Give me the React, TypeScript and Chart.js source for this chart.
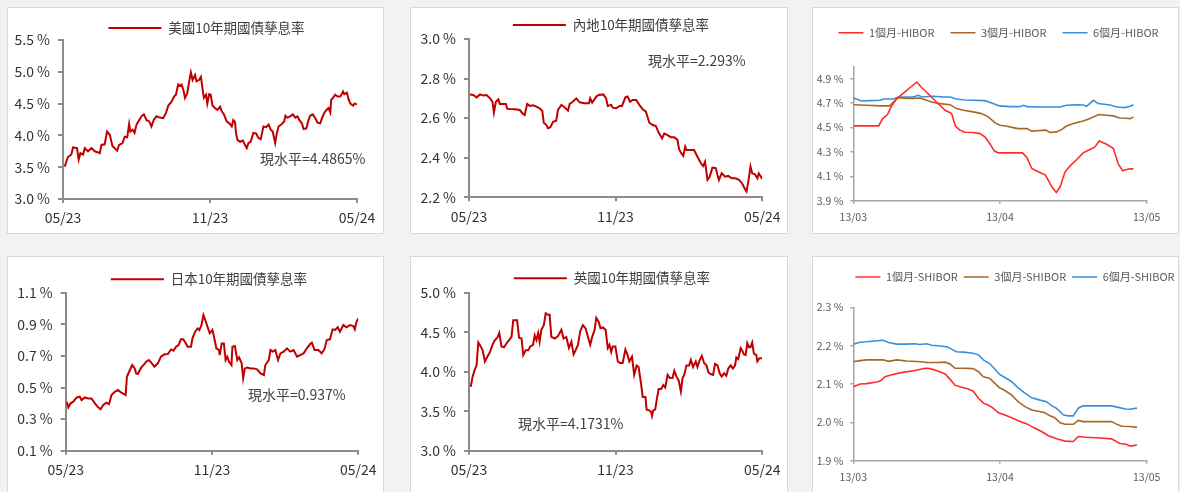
import React, { useEffect, useRef } from "react";
import { Chart, registerables, layouts } from "chart.js";

Chart.register(...registerables);

const FONT = "'Noto Sans CJK TC', 'Noto Sans', sans-serif";

type Pt = [number, number];

// ---- tick labels ----
const bondXTicks = [0, 6, 12];
const bondXLabels = ["05/23", "11/23", "05/24"];
const rateXTicks = [0, 30, 60];
const rateXLabels = ["13/03", "13/04", "13/05"];

const usYTicks = [3.0, 3.5, 4.0, 4.5, 5.0, 5.5];
const cnYTicks = [2.2, 2.4, 2.6, 2.8, 3.0];
const jpYTicks = [0.1, 0.3, 0.5, 0.7, 0.9, 1.1];
const ukYTicks = [3.0, 3.5, 4.0, 4.5, 5.0];
const hiborYTicks = [3.9, 4.1, 4.3, 4.5, 4.7, 4.9];
const shiborYTicks = [1.9, 2.0, 2.1, 2.2, 2.3];

// ---- series: [months since 05/23, yield %] ----
const usYield: Pt[] = [[0.07,3.51],[0.20,3.66],[0.34,3.70],[0.41,3.81],[0.57,3.80],[0.64,3.62],[0.71,3.72],[0.82,3.70],[0.89,3.80],[1.02,3.75],[1.16,3.80],[1.30,3.75],[1.50,3.72],[1.57,3.85],[1.70,3.86],[1.80,4.06],[1.91,4.01],[2.02,3.83],[2.11,3.80],[2.21,3.76],[2.29,3.85],[2.43,3.88],[2.52,3.98],[2.62,3.97],[2.70,4.18],[2.75,4.06],[2.84,4.09],[2.92,4.04],[3.00,4.17],[3.11,4.24],[3.20,4.30],[3.30,4.33],[3.41,4.24],[3.52,4.22],[3.61,4.14],[3.71,4.25],[3.82,4.30],[3.95,4.28],[4.09,4.27],[4.20,4.35],[4.30,4.47],[4.43,4.53],[4.53,4.61],[4.61,4.64],[4.70,4.80],[4.77,4.78],[4.84,4.80],[4.91,4.72],[4.98,4.59],[5.07,4.66],[5.15,4.85],[5.22,4.99],[5.29,4.87],[5.39,4.95],[5.45,4.85],[5.55,4.87],[5.63,4.92],[5.70,4.72],[5.75,4.59],[5.84,4.64],[5.89,4.50],[5.97,4.65],[6.03,4.64],[6.10,4.47],[6.20,4.43],[6.30,4.40],[6.41,4.45],[6.48,4.38],[6.57,4.33],[6.68,4.22],[6.79,4.19],[6.89,4.14],[6.95,4.24],[7.02,4.21],[7.06,4.04],[7.12,3.93],[7.23,3.90],[7.34,3.92],[7.43,3.85],[7.50,3.80],[7.57,3.88],[7.66,3.90],[7.77,4.04],[7.88,4.03],[7.98,3.96],[8.07,3.94],[8.18,4.14],[8.29,4.13],[8.39,4.17],[8.48,4.09],[8.56,4.06],[8.66,3.88],[8.73,4.04],[8.80,4.14],[8.93,4.18],[9.03,4.22],[9.08,4.31],[9.16,4.28],[9.27,4.30],[9.38,4.33],[9.48,4.28],[9.57,4.30],[9.65,4.24],[9.75,4.19],[9.82,4.10],[9.93,4.11],[10.02,4.24],[10.09,4.31],[10.19,4.33],[10.30,4.27],[10.39,4.20],[10.50,4.19],[10.57,4.27],[10.66,4.35],[10.75,4.40],[10.84,4.43],[10.91,4.36],[10.95,4.56],[11.02,4.59],[11.11,4.64],[11.21,4.61],[11.32,4.61],[11.43,4.69],[11.48,4.65],[11.59,4.67],[11.66,4.56],[11.73,4.50],[11.84,4.47],[11.90,4.50],[12.00,4.49]];

const cnYield: Pt[] = [[0.04,2.720],[0.18,2.717],[0.31,2.705],[0.45,2.720],[0.58,2.714],[0.72,2.717],[0.86,2.700],[0.96,2.683],[1.02,2.628],[1.10,2.683],[1.20,2.695],[1.26,2.672],[1.40,2.672],[1.51,2.672],[1.56,2.648],[1.67,2.646],[1.88,2.645],[2.08,2.641],[2.19,2.624],[2.28,2.616],[2.38,2.672],[2.49,2.662],[2.62,2.665],[2.76,2.658],[2.89,2.650],[3.00,2.636],[3.06,2.577],[3.17,2.565],[3.23,2.549],[3.33,2.554],[3.44,2.582],[3.57,2.587],[3.64,2.641],[3.78,2.667],[3.91,2.655],[4.05,2.638],[4.12,2.672],[4.25,2.683],[4.39,2.700],[4.53,2.680],[4.73,2.675],[4.91,2.675],[4.96,2.700],[5.04,2.678],[5.21,2.709],[5.31,2.717],[5.50,2.720],[5.61,2.700],[5.68,2.662],[5.82,2.667],[5.88,2.653],[6.02,2.650],[6.16,2.662],[6.26,2.662],[6.40,2.705],[6.49,2.709],[6.59,2.683],[6.70,2.692],[6.84,2.692],[6.97,2.667],[7.11,2.645],[7.24,2.633],[7.38,2.577],[7.52,2.565],[7.65,2.560],[7.76,2.527],[7.90,2.498],[7.99,2.522],[8.13,2.514],[8.26,2.503],[8.40,2.503],[8.53,2.490],[8.60,2.443],[8.67,2.426],[8.77,2.409],[8.85,2.456],[8.90,2.439],[9.01,2.439],[9.21,2.439],[9.35,2.405],[9.49,2.372],[9.58,2.358],[9.66,2.380],[9.76,2.288],[9.85,2.304],[9.96,2.350],[10.10,2.347],[10.17,2.313],[10.23,2.288],[10.34,2.321],[10.48,2.304],[10.61,2.308],[10.75,2.296],[10.91,2.296],[11.05,2.288],[11.18,2.270],[11.28,2.245],[11.36,2.229],[11.43,2.279],[11.52,2.355],[11.59,2.321],[11.70,2.316],[11.80,2.296],[11.86,2.321],[12.00,2.293]];

const jpYield: Pt[] = [[0.04,0.41],[0.11,0.374],[0.20,0.40],[0.31,0.41],[0.45,0.437],[0.58,0.442],[0.65,0.42],[0.79,0.437],[0.92,0.431],[1.06,0.431],[1.20,0.40],[1.33,0.374],[1.43,0.362],[1.54,0.389],[1.67,0.404],[1.78,0.395],[1.88,0.452],[2.01,0.473],[2.15,0.484],[2.28,0.467],[2.38,0.459],[2.46,0.452],[2.51,0.568],[2.62,0.606],[2.73,0.642],[2.83,0.621],[2.89,0.589],[2.96,0.585],[3.10,0.627],[3.19,0.642],[3.30,0.663],[3.41,0.674],[3.51,0.657],[3.64,0.632],[3.78,0.653],[3.91,0.695],[4.05,0.710],[4.19,0.712],[4.32,0.741],[4.42,0.733],[4.53,0.758],[4.63,0.769],[4.73,0.805],[4.82,0.805],[4.91,0.784],[5.00,0.758],[5.14,0.758],[5.20,0.811],[5.31,0.853],[5.41,0.874],[5.48,0.864],[5.57,0.895],[5.65,0.959],[5.75,0.916],[5.84,0.874],[5.91,0.843],[6.02,0.864],[6.09,0.817],[6.18,0.748],[6.29,0.737],[6.32,0.705],[6.40,0.779],[6.49,0.779],[6.56,0.674],[6.63,0.695],[6.70,0.663],[6.80,0.642],[6.84,0.758],[6.94,0.763],[7.04,0.674],[7.11,0.691],[7.22,0.653],[7.28,0.558],[7.35,0.621],[7.45,0.627],[7.58,0.621],[7.72,0.621],[7.85,0.615],[7.99,0.589],[8.13,0.579],[8.19,0.642],[8.33,0.674],[8.40,0.737],[8.49,0.727],[8.60,0.737],[8.71,0.674],[8.81,0.716],[8.94,0.727],[9.08,0.748],[9.21,0.727],[9.35,0.737],[9.49,0.695],[9.62,0.705],[9.76,0.716],[9.89,0.748],[10.03,0.775],[10.10,0.784],[10.21,0.737],[10.37,0.737],[10.50,0.716],[10.61,0.741],[10.71,0.800],[10.84,0.805],[10.95,0.868],[11.05,0.864],[11.16,0.881],[11.25,0.853],[11.39,0.895],[11.52,0.881],[11.66,0.895],[11.80,0.889],[11.86,0.868],[11.93,0.916],[12.00,0.937]];

const ukYield: Pt[] = [[0.07,3.81],[0.15,3.94],[0.24,4.03],[0.31,4.08],[0.38,4.37],[0.48,4.32],[0.56,4.27],[0.65,4.13],[0.75,4.19],[0.86,4.25],[0.96,4.34],[1.06,4.40],[1.16,4.43],[1.24,4.49],[1.33,4.32],[1.43,4.31],[1.54,4.36],[1.64,4.40],[1.74,4.44],[1.81,4.65],[1.92,4.65],[1.97,4.65],[2.05,4.43],[2.15,4.42],[2.22,4.21],[2.32,4.27],[2.42,4.27],[2.51,4.32],[2.62,4.34],[2.69,4.46],[2.76,4.40],[2.83,4.49],[2.89,4.38],[2.96,4.53],[3.06,4.59],[3.14,4.74],[3.23,4.72],[3.30,4.72],[3.37,4.44],[3.51,4.42],[3.64,4.45],[3.78,4.53],[3.87,4.42],[3.98,4.44],[4.09,4.30],[4.19,4.38],[4.28,4.22],[4.36,4.27],[4.46,4.34],[4.55,4.51],[4.66,4.59],[4.77,4.55],[4.87,4.44],[4.96,4.34],[5.04,4.44],[5.14,4.53],[5.21,4.68],[5.31,4.63],[5.38,4.55],[5.48,4.56],[5.59,4.53],[5.68,4.30],[5.75,4.34],[5.82,4.25],[5.88,4.32],[5.99,4.32],[6.09,4.13],[6.18,4.11],[6.29,4.11],[6.40,4.28],[6.49,4.21],[6.56,4.13],[6.67,4.19],[6.76,3.96],[6.86,4.08],[6.94,4.06],[7.04,3.85],[7.11,3.68],[7.22,3.68],[7.27,3.52],[7.38,3.51],[7.45,3.49],[7.49,3.44],[7.54,3.51],[7.62,3.52],[7.68,3.64],[7.76,3.78],[7.86,3.78],[7.95,3.83],[8.03,3.80],[8.13,3.96],[8.22,3.92],[8.33,3.92],[8.40,4.01],[8.49,3.94],[8.58,3.89],[8.67,3.75],[8.74,3.92],[8.81,3.96],[8.90,4.08],[9.01,4.08],[9.08,4.15],[9.17,4.06],[9.28,4.13],[9.35,4.06],[9.42,4.13],[9.53,4.20],[9.62,4.11],[9.72,4.08],[9.80,3.99],[9.89,3.97],[9.99,3.96],[10.07,4.10],[10.17,4.08],[10.26,3.98],[10.34,3.94],[10.44,3.98],[10.53,3.95],[10.61,4.04],[10.71,4.08],[10.80,4.04],[10.89,4.08],[10.94,4.18],[11.02,4.16],[11.12,4.30],[11.18,4.27],[11.25,4.22],[11.32,4.21],[11.39,4.36],[11.46,4.31],[11.52,4.31],[11.59,4.37],[11.66,4.23],[11.76,4.21],[11.80,4.13],[11.89,4.17],[12.00,4.17]];

// ---- series: [days since 13/03, rate %] ----
const hibor1M: Pt[] = [[0,4.513],[5.2,4.513],[6.0,4.573],[7.0,4.606],[7.8,4.674],[8.9,4.737],[13.0,4.873],[14.0,4.826],[15.3,4.777],[17.0,4.709],[18.8,4.641],[20.1,4.614],[20.9,4.51],[21.8,4.478],[22.8,4.461],[24.5,4.459],[25.9,4.45],[26.9,4.423],[28.0,4.363],[28.8,4.309],[29.7,4.292],[31.4,4.292],[33.4,4.292],[34.6,4.292],[35.5,4.254],[36.5,4.164],[37.8,4.137],[39.3,4.11],[40.6,4.014],[41.5,3.968],[42.3,4.014],[43.3,4.137],[44.3,4.183],[45.7,4.238],[47.0,4.292],[48.4,4.32],[49.4,4.341],[50.3,4.39],[51.8,4.363],[53.2,4.327],[54.2,4.199],[55.1,4.145],[55.9,4.155],[56.6,4.161],[57.3,4.161]];
const hibor3M: Pt[] = [[0,4.687],[2.7,4.682],[5.5,4.677],[7.4,4.677],[8.2,4.709],[9.2,4.745],[10.9,4.739],[12.3,4.739],[13.6,4.742],[15.0,4.723],[16.0,4.709],[17.7,4.696],[19.8,4.687],[21.1,4.655],[22.5,4.641],[24.5,4.628],[26.2,4.614],[27.6,4.587],[29.0,4.538],[30.0,4.519],[31.4,4.51],[32.7,4.499],[33.7,4.491],[35.5,4.491],[36.5,4.47],[38.2,4.475],[39.4,4.478],[40.2,4.459],[41.6,4.464],[42.6,4.483],[43.5,4.51],[45.0,4.532],[47.0,4.554],[48.4,4.573],[50.2,4.606],[51.8,4.60],[53.2,4.595],[54.4,4.578],[55.6,4.576],[56.6,4.573],[57.3,4.587]];
const hibor6M: Pt[] = [[0,4.742],[1.7,4.717],[3.4,4.72],[5.5,4.723],[6.1,4.734],[8.2,4.734],[9.2,4.75],[10.9,4.75],[12.3,4.75],[13.3,4.764],[14.0,4.75],[16.4,4.756],[18.4,4.75],[19.8,4.75],[21.1,4.734],[22.8,4.726],[24.5,4.723],[26.9,4.72],[28.3,4.701],[29.9,4.677],[32.0,4.671],[34.1,4.671],[34.8,4.682],[35.5,4.671],[38.2,4.668],[42.3,4.668],[43.6,4.682],[45.7,4.687],[47.0,4.684],[47.7,4.674],[49.1,4.723],[50.1,4.696],[52.5,4.684],[53.9,4.668],[55.6,4.663],[56.6,4.674],[57.3,4.687]];

const shibor1M: Pt[] = [[0,2.093],[1.4,2.10],[2.7,2.101],[4.8,2.105],[5.5,2.108],[6.5,2.119],[7.5,2.123],[9.5,2.129],[12.6,2.135],[14.7,2.141],[15.7,2.14],[17.0,2.135],[18.8,2.126],[19.8,2.112],[20.8,2.097],[21.8,2.093],[23.2,2.088],[24.5,2.082],[25.6,2.063],[26.6,2.05],[27.6,2.045],[28.5,2.038],[29.7,2.025],[31.0,2.019],[32.4,2.012],[34.1,2.002],[35.5,1.996],[36.8,1.987],[38.5,1.976],[39.9,1.965],[41.6,1.957],[43.3,1.951],[45.0,1.95],[46.0,1.963],[47.7,1.961],[50.5,1.959],[52.8,1.957],[54.5,1.945],[55.8,1.943],[56.7,1.938],[58.0,1.941]];
const shibor3M: Pt[] = [[0,2.158],[1.4,2.161],[2.7,2.163],[4.8,2.163],[6.1,2.163],[7.2,2.159],[8.9,2.163],[10.9,2.16],[14.0,2.158],[15.0,2.156],[17.0,2.156],[18.8,2.157],[19.8,2.152],[20.8,2.141],[22.5,2.141],[24.5,2.14],[25.6,2.132],[26.6,2.119],[27.8,2.115],[28.6,2.106],[29.9,2.09],[31.0,2.083],[32.4,2.071],[33.7,2.054],[35.1,2.041],[36.5,2.032],[37.8,2.029],[39.2,2.025],[40.2,2.017],[41.2,2.012],[42.3,1.999],[43.3,1.995],[45.0,1.995],[46.0,2.005],[47.0,2.002],[49.8,2.002],[52.8,2.002],[53.7,1.996],[54.9,1.99],[56.6,1.989],[58.0,1.987]];
const shibor6M: Pt[] = [[0,2.204],[1.4,2.209],[2.7,2.21],[4.4,2.212],[6.1,2.214],[7.2,2.208],[8.9,2.204],[10.9,2.204],[12.6,2.205],[13.6,2.203],[15.0,2.205],[16.0,2.201],[17.7,2.199],[19.1,2.197],[20.1,2.191],[21.1,2.184],[22.5,2.183],[24.5,2.18],[25.6,2.176],[26.6,2.163],[27.8,2.154],[28.8,2.141],[29.9,2.125],[31.0,2.117],[32.4,2.106],[33.7,2.09],[35.1,2.076],[36.5,2.064],[38.2,2.058],[39.5,2.054],[40.6,2.043],[41.5,2.037],[43.0,2.019],[44.0,2.017],[45.0,2.017],[46.0,2.037],[47.0,2.043],[49.8,2.043],[52.8,2.043],[54.2,2.039],[55.6,2.035],[56.6,2.034],[58.0,2.037]];

// ---- chart component ----
interface Series { label: string; color: string; data: Pt[] }
interface Spec {
  W: number; H: number;
  plot: { l: number; t: number; r: number; b: number };
  legend: { cx: number; cy: number; size: number; pad: number; lineW: number; color: string };
  series: Series[];
  lineWidth: number;
  x: { min: number; max: number; ticks: number[]; labels: string[]; tickLen: number; pad: number };
  y: { min: number; max: number; ticks: number[]; fmt: (v: number) => string; tickLen: number; pad: number };
  tickFont: number; tickColor: string; axisColor: string; axisWidth: number;
}

function LineChart({ spec }: { spec: Spec }) {
  const ref = useRef<HTMLCanvasElement>(null);
  useEffect(() => {
    const s = spec;
    const { W, H, plot, legend } = s;
    const pl = 0;
    const pr = pl + W - 2 * legend.cx;
    const pt = legend.cy - legend.pad - legend.size / 2;
    const natural = legend.size + legend.pad + 10;
    const topSpace = plot.t - pt;
    const legendH = Math.min(natural, topSpace);
    const spacerTop = Math.max(0, topSpace - natural);
    const spacerRight = W - pr - plot.r;
    const yAxisW = plot.l - pl;
    const xAxisH = H - plot.b;

    const spacer = {
      id: "spacer",
      beforeInit(chart: any) {
        const mk = (position: string, size: number) => ({
          position, weight: -10, fullSize: false, options: {},
          left: 0, top: 0, right: 0, bottom: 0, width: 0, height: 0,
          isHorizontal() { return position === "top" || position === "bottom"; },
          update(maxWidth: number, maxHeight: number) {
            if (this.isHorizontal()) { this.width = maxWidth; this.height = size; }
            else { this.width = size; this.height = maxHeight; }
          },
          draw() {},
          getPadding() { return { left: 0, right: 0, top: 0, bottom: 0 }; },
        });
        layouts.addBox(chart, mk("top", spacerTop) as any);
        layouts.addBox(chart, mk("right", spacerRight) as any);
      },
    };

    const tickFont = { family: FONT, size: s.tickFont };
    const chart = new Chart(ref.current!, {
      type: "line",
      data: {
        datasets: s.series.map((se) => ({
          label: se.label,
          data: se.data.map(([x, y]) => ({ x, y })),
          borderColor: se.color,
          backgroundColor: se.color,
          borderWidth: s.lineWidth,
          pointRadius: 0,
          tension: 0,
          fill: false,
        })),
      },
      options: {
        animation: false,
        responsive: false,
        maintainAspectRatio: false,
        events: [],
        layout: { padding: { left: pl, right: pr, top: pt, bottom: 0 } },
        plugins: {
          legend: {
            display: true,
            position: "top",
            align: "center",
            maxHeight: legendH,
            labels: {
              usePointStyle: true,
              pointStyle: "line",
              pointStyleWidth: legend.lineW,
              padding: legend.pad,
              color: legend.color,
              font: { family: FONT, size: legend.size },
            },
          },
          tooltip: { enabled: false },
        },
        scales: {
          x: {
            type: "linear",
            min: s.x.min,
            max: s.x.max,
            afterFit: (sc: any) => { sc.height = xAxisH; },
            afterBuildTicks: (sc: any) => { sc.ticks = s.x.ticks.map((v) => ({ value: v })); },
            ticks: {
              autoSkip: false, maxRotation: 0, minRotation: 0,
              padding: s.x.pad, color: s.tickColor, font: tickFont,
              callback: (v: any) => s.x.labels[s.x.ticks.indexOf(Number(v))] ?? "",
            },
            grid: { display: true, drawOnChartArea: false, drawTicks: true, tickLength: s.x.tickLen, color: s.axisColor, lineWidth: s.axisWidth },
            border: { display: true, color: s.axisColor, width: s.axisWidth },
          },
          y: {
            type: "linear",
            min: s.y.min,
            max: s.y.max,
            afterFit: (sc: any) => { sc.width = yAxisW; },
            afterBuildTicks: (sc: any) => { sc.ticks = s.y.ticks.map((v) => ({ value: v })); },
            ticks: {
              autoSkip: false, padding: s.y.pad, color: s.tickColor, font: tickFont,
              callback: (v: any) => s.y.fmt(Number(v)),
            },
            grid: { display: true, drawOnChartArea: false, drawTicks: true, tickLength: s.y.tickLen, color: s.axisColor, lineWidth: s.axisWidth },
            border: { display: true, color: s.axisColor, width: s.axisWidth },
          },
        },
      },
      plugins: [spacer as any],
    });
    return () => chart.destroy();
  }, [spec]);
  return <canvas ref={ref} width={spec.W} height={spec.H} style={{ display: "block", width: spec.W, height: spec.H }} />;
}

// ---- specs ----
const BOND_RED = "#c00000";
const pct1 = (v: number) => v.toFixed(1) + " %";

function bondSpec(W: number, H: number, plot: Spec["plot"], lcx: number, lcy: number, label: string, data: Pt[], yTicks: number[]): Spec {
  return {
    W, H, plot,
    legend: { cx: lcx, cy: lcy, size: 13.5, pad: 8, lineW: 53, color: "#404040" },
    series: [{ label, color: BOND_RED, data }],
    lineWidth: 2,
    x: { min: 0, max: 12, ticks: bondXTicks, labels: bondXLabels, tickLen: 4, pad: 6.5 },
    y: { min: yTicks[0], max: yTicks[yTicks.length - 1], ticks: yTicks, fmt: pct1, tickLen: 5, pad: 8 },
    tickFont: 14, tickColor: "#333333", axisColor: "#8c8c8c", axisWidth: 2,
  };
}

function rateSpec(W: number, H: number, plot: Spec["plot"], lcx: number, lcy: number, pad: number, names: string[], data: Pt[][], yTicks: number[], yMax: number): Spec {
  const colors = ["#ff2b2b", "#a5682a", "#3a8fdc"];
  return {
    W, H, plot,
    legend: { cx: lcx, cy: lcy, size: 11, pad, lineW: 25, color: "#595959" },
    series: names.map((n, i) => ({ label: n, color: colors[i], data: data[i] })),
    lineWidth: 1.6,
    x: { min: 0, max: 60, ticks: rateXTicks, labels: rateXLabels, tickLen: 3, pad: 7 },
    y: { min: yTicks[0], max: yMax, ticks: yTicks, fmt: pct1, tickLen: 3, pad: 7 },
    tickFont: 10.5, tickColor: "#595959", axisColor: "#a6a6a6", axisWidth: 1.5,
  };
}

const specUS = bondSpec(375, 225, { l: 55, t: 32, r: 349, b: 191 }, 198.5, 20, "美國10年期國債孳息率", usYield, usYTicks);
const specCN = bondSpec(376, 225, { l: 58, t: 31, r: 352.3, b: 189.3 }, 200, 17, "內地10年期國債孳息率", cnYield, cnYTicks);
const specJP = bondSpec(375, 238, { l: 57.7, t: 35.7, r: 352, b: 193.7 }, 201, 22.3, "日本10年期國債孳息率", jpYield, jpYTicks);
const specUK = bondSpec(376, 238, { l: 58, t: 35.7, r: 352.3, b: 193.7 }, 201, 21.3, "英國10年期國債孳息率", ukYield, ukYTicks);
const specHIBOR = rateSpec(365, 225, { l: 40.3, t: 58.5, r: 333.7, b: 192.7 }, 185.5, 24.7, 16,
  ["1個月-HIBOR", "3個月-HIBOR", "6個月-HIBOR"], [hibor1M, hibor3M, hibor6M], hiborYTicks, 5.0);
const specSHIBOR = rateSpec(365, 238, { l: 40.3, t: 50.3, r: 333.7, b: 203.7 }, 202, 20, 6,
  ["1個月-SHIBOR", "3個月-SHIBOR", "6個月-SHIBOR"], [shibor1M, shibor3M, shibor6M], shiborYTicks, 2.3);

interface PanelDef { x: number; y: number; w: number; h: number; spec: Spec; note?: { text: string; x: number; cy: number } }

const panels: PanelDef[] = [
  { x: 7, y: 7, w: 377, h: 227, spec: specUS, note: { text: "現水平=4.4865%", x: 252, cy: 150 } },
  { x: 410, y: 7, w: 378, h: 227, spec: specCN, note: { text: "現水平=2.293%", x: 237, cy: 52 } },
  { x: 812, y: 7, w: 367, h: 227, spec: specHIBOR },
  { x: 7, y: 256, w: 377, h: 240, spec: specJP, note: { text: "現水平=0.937%", x: 240, cy: 137.3 } },
  { x: 410, y: 256, w: 378, h: 240, spec: specUK, note: { text: "現水平=4.1731%", x: 107, cy: 166.3 } },
  { x: 812, y: 256, w: 367, h: 240, spec: specSHIBOR },
];

export default function App() {
  return (
    <div style={{ position: "absolute", left: 0, top: 0, width: 1180, height: 492, overflow: "hidden", background: "#f2f2f2", fontFamily: FONT }}>
      {panels.map((p, i) => (
        <div key={i} style={{ position: "absolute", left: p.x, top: p.y, width: p.w, height: p.h, boxSizing: "border-box", border: "1px solid #d9d9d9", background: "#ffffff" }}>
          <LineChart spec={p.spec} />
          {p.note && (
            <div style={{ position: "absolute", left: p.note.x, top: p.note.cy - 8, height: 16, lineHeight: "16px", fontSize: 14, color: "#404040", whiteSpace: "nowrap", fontFamily: FONT }}>
              {p.note.text}
            </div>
          )}
        </div>
      ))}
    </div>
  );
}
